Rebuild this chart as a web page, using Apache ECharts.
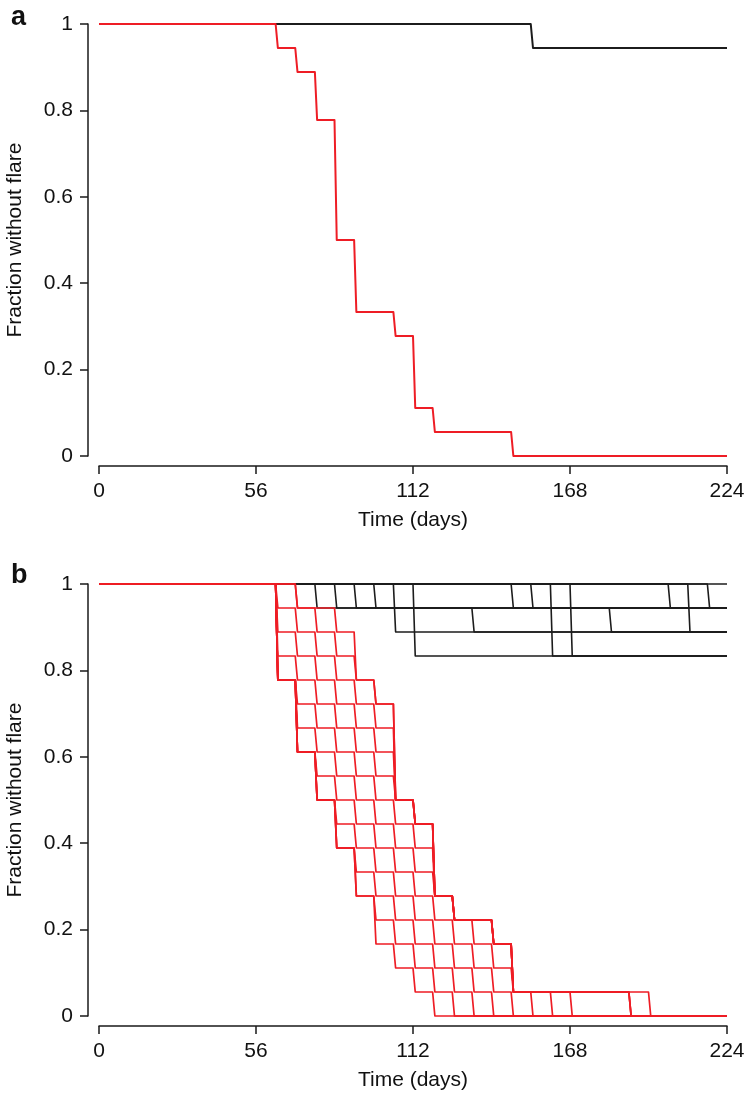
<!DOCTYPE html>
<html><head><meta charset="utf-8">
<script src="https://cdn.jsdelivr.net/npm/echarts@6/dist/echarts.min.js"></script>
<style>html,body{margin:0;padding:0;background:#fff}#c{width:746px;height:1104px}</style>
</head><body><div id="c"></div>
<script>
// ---- data ----
const X_TICKS = [0, 56, 112, 168, 224];
const Y_TICKS = [0, 0.2, 0.4, 0.6, 0.8, 1];
const X_MAX = 224;

// Panel a: Kaplan–Meier (drop days and fraction after each drop)
const A_CTRL_DAYS = [154];
const A_CTRL_SURV = [0.9444];
const A_TRT_DAYS = [63, 70, 77, 84, 91, 105, 112, 119, 147];
const A_TRT_SURV = [0.9444, 0.8889, 0.7778, 0.5, 0.3333, 0.2778, 0.1111, 0.0556, 0];

// Panel b: fraction levels (n = 18) and the day of each successive drop per curve
const B_LEVELS = [1, 0.9444, 0.8889, 0.8333, 0.7778, 0.7222, 0.6667, 0.6111, 0.5556, 0.5,
                  0.4444, 0.3889, 0.3333, 0.2778, 0.2222, 0.1667, 0.1111, 0.0556, 0];
const B_CTRL = [
  [77, 133], [84, 182], [91], [98], [105, 105], [112, 112, 112], [147], [154],
  [161, 161, 161], [168, 168, 168], [203], [210, 210], [217], []
];
const B_TRT = [
  [63,63,63,63,70,70,70,77,77,84,84,91,91,98,98,105,112,119],
  [63,63,63,63,70,70,70,77,77,84,84,91,91,98,105,112,119,126],
  [63,63,63,63,70,70,70,77,77,84,84,91,98,105,112,119,126,133],
  [63,63,63,63,70,70,70,77,77,84,91,98,105,112,119,126,133,140],
  [63,63,63,63,70,70,70,77,84,91,98,105,112,119,126,133,140,147],
  [63,63,63,63,70,70,77,84,91,98,105,112,119,126,133,140,147,154],
  [63,63,63,63,70,77,84,91,98,105,112,119,119,126,140,147,147,161],
  [63,63,63,70,77,84,91,98,105,112,119,119,119,126,140,147,147,168],
  [63,63,70,77,84,91,98,105,105,112,119,119,119,126,140,147,147,189],
  [63,70,77,84,91,98,105,105,105,112,119,119,119,126,140,147,147,189],
  [70,77,84,91,98,105,105,105,105,112,119,119,119,126,140,147,147,189],
  [70,84,91,91,98,105,105,105,105,112,119,119,119,126,140,147,147,196]
];

// ---- style ----
const FONT = "'Liberation Sans', Arial, Helvetica, sans-serif";
const FS = 21;
const RED = '#ee1d25';
const BLACK = '#1c1c1c';
const AXIS = '#1a1a1a';
const SLANT = 0.8; // small horizontal lean of each drop, as in the original rendering

function stepLine(days, surv) {
  const pts = [[0, 1]];
  let cur = 1;
  for (let i = 0; i < days.length; i++) {
    const t = days[i];
    if (i + 1 < days.length && days[i + 1] === t) continue;
    pts.push([t, cur]);
    pts.push([t + SLANT, surv[i]]);
    cur = surv[i];
  }
  pts.push([X_MAX, cur]);
  return pts;
}

function lineSeries(data, color, width, gi) {
  return {
    type: 'line', xAxisIndex: gi, yAxisIndex: gi, data: data,
    showSymbol: false, symbol: 'none', silent: true, animation: false, clip: false,
    lineStyle: { color: color, width: width, join: 'round' }
  };
}

function xAxis(gi) {
  return {
    type: 'value', gridIndex: gi, min: X_TICKS[0], max: X_TICKS[X_TICKS.length - 1],
    interval: X_TICKS[1] - X_TICKS[0], offset: 10,
    name: 'Time (days)', nameLocation: 'middle', nameGap: 44,
    nameTextStyle: { fontSize: FS, color: '#111', fontFamily: FONT },
    axisLine: { show: true, onZero: false, lineStyle: { color: AXIS, width: 1.5 } },
    axisTick: { show: true, length: 8, lineStyle: { color: AXIS, width: 1.5 } },
    axisLabel: { margin: 15, fontSize: FS, color: '#111', fontFamily: FONT,
                 showMinLabel: true, showMaxLabel: true, hideOverlap: false },
    splitLine: { show: false }
  };
}
function yAxis(gi) {
  return {
    type: 'value', gridIndex: gi, min: Y_TICKS[0], max: Y_TICKS[Y_TICKS.length - 1],
    interval: Y_TICKS[1] - Y_TICKS[0], offset: 11,
    name: 'Fraction without flare', nameLocation: 'middle', nameGap: 62, nameRotate: 90,
    nameTextStyle: { fontSize: FS, color: '#111', fontFamily: FONT },
    axisLine: { show: true, onZero: false, lineStyle: { color: AXIS, width: 1.5 } },
    axisTick: { show: true, length: 8, lineStyle: { color: AXIS, width: 1.5 } },
    axisLabel: { margin: 15, fontSize: FS, color: '#111', fontFamily: FONT,
                 showMinLabel: true, showMaxLabel: true,
                 formatter: v => String(Math.round(v * 10) / 10) },
    splitLine: { show: false }
  };
}

const series = [];
series.push(lineSeries(stepLine(A_CTRL_DAYS, A_CTRL_SURV), BLACK, 2, 0));
series.push(lineSeries(stepLine(A_TRT_DAYS, A_TRT_SURV), RED, 2, 0));
B_CTRL.forEach(d => series.push(lineSeries(stepLine(d, B_LEVELS.slice(1, d.length + 1)), BLACK, 1.6, 1)));
B_TRT.forEach(d => series.push(lineSeries(stepLine(d, B_LEVELS.slice(1, d.length + 1)), RED, 1.7, 1)));

const chart = echarts.init(document.getElementById('c'), null, { renderer: 'canvas' });
chart.setOption({
  backgroundColor: '#fff',
  animation: false,
  title: [
    { text: 'a', left: 6, top: -1, textStyle: { fontSize: 27, fontWeight: 'bold', color: '#111', fontFamily: FONT } },
    { text: 'b', left: 6, top: 557, textStyle: { fontSize: 27, fontWeight: 'bold', color: '#111', fontFamily: FONT } }
  ],
  grid: [
    { left: 99, right: 19, top: 24, height: 432, containLabel: false, outerBoundsMode: 'none' },
    { left: 99, right: 19, top: 584, height: 432, containLabel: false, outerBoundsMode: 'none' }
  ],
  xAxis: [xAxis(0), xAxis(1)],
  yAxis: [yAxis(0), yAxis(1)],
  series: series
});
</script>
</body></html>
